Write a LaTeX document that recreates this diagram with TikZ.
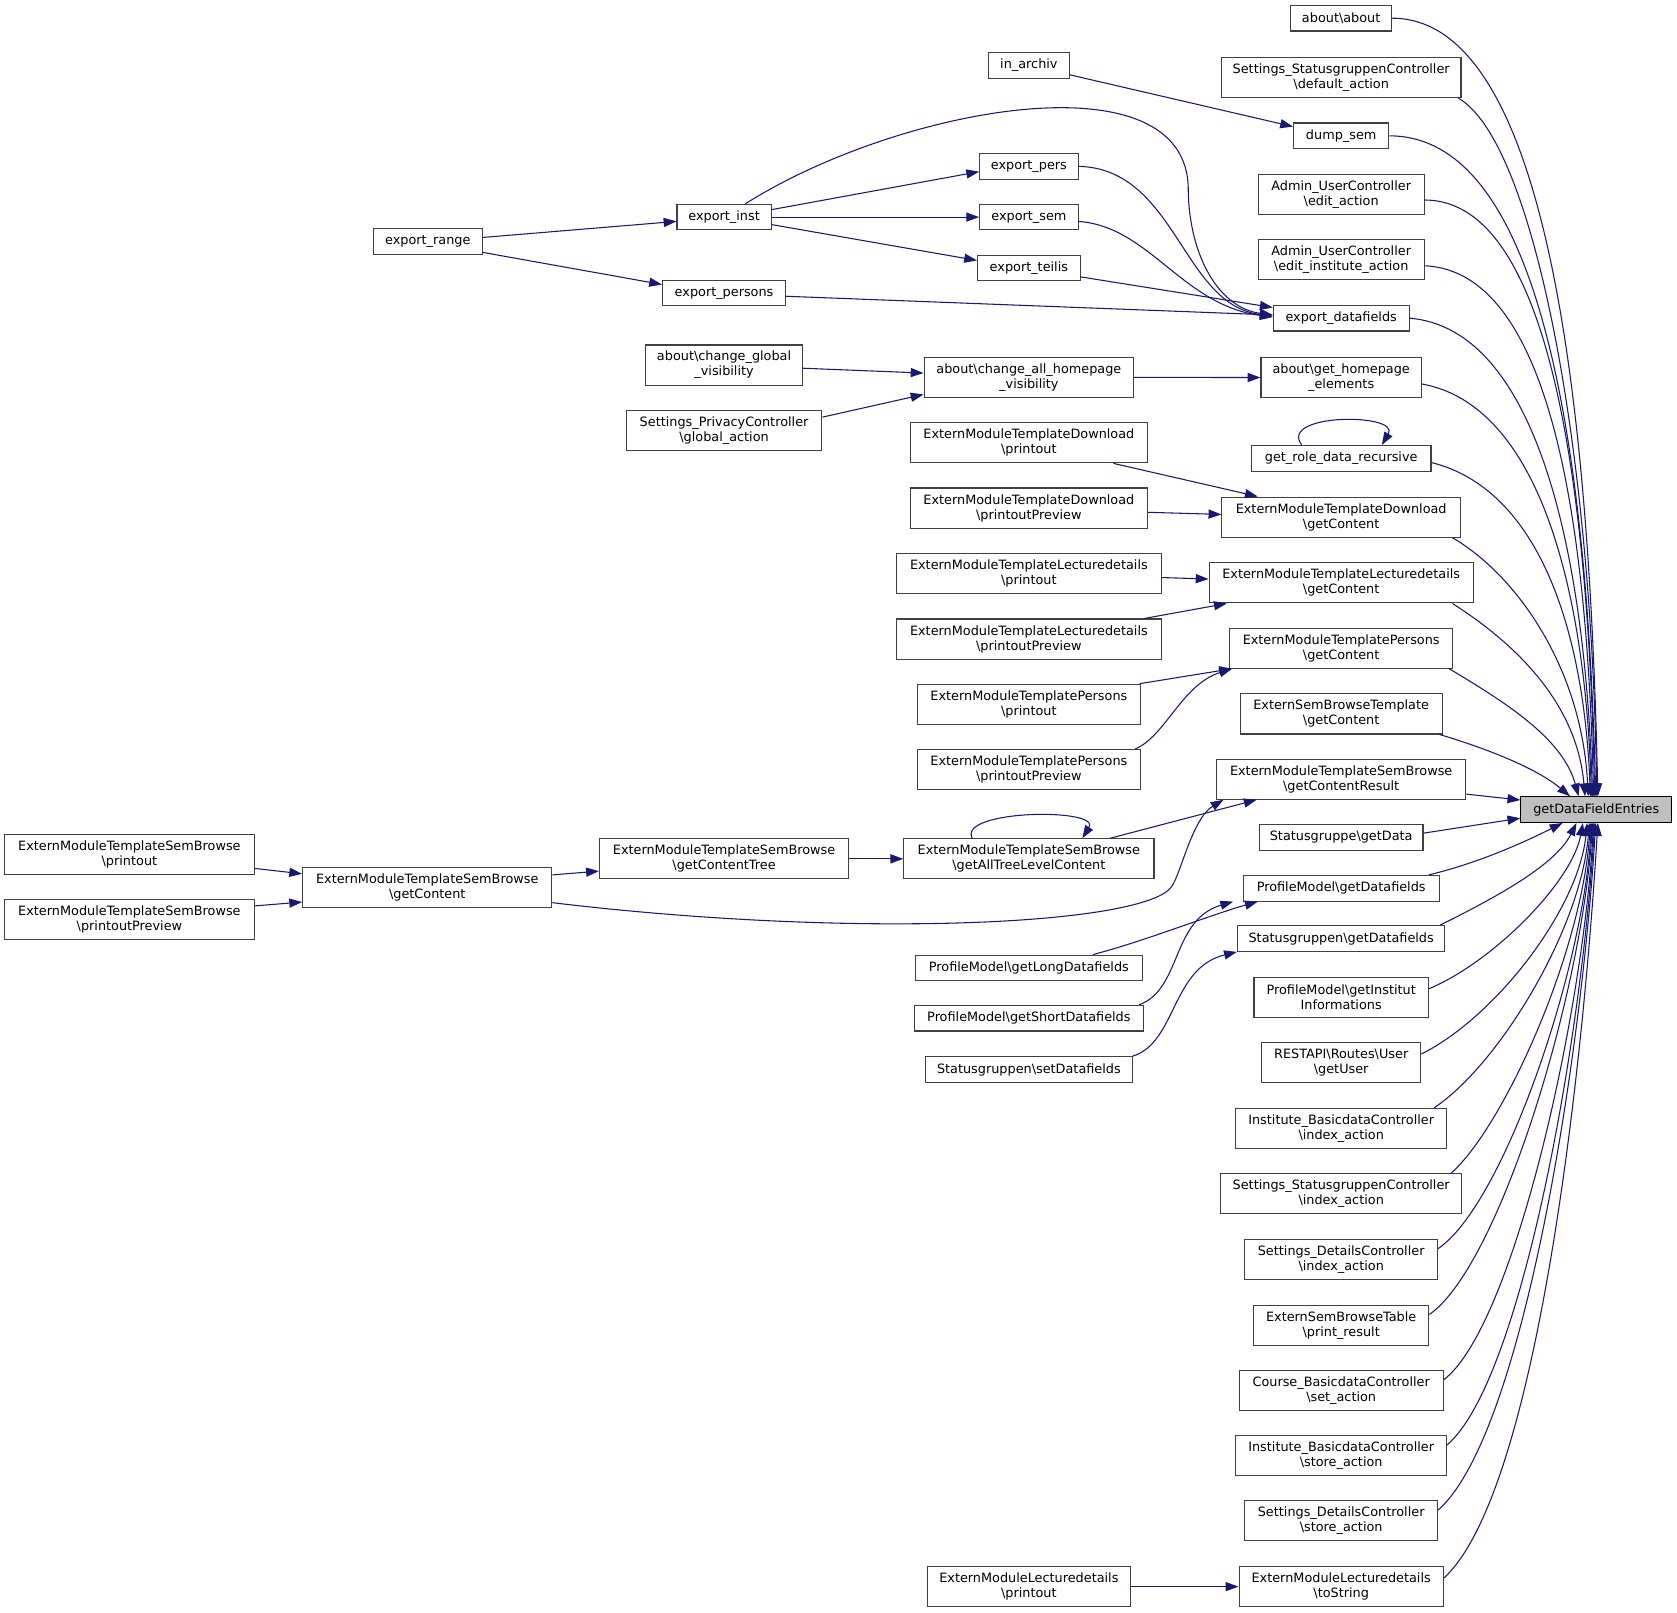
\documentclass[tikz,border=0pt]{standalone}
\usepackage{fontspec}
\setmainfont{DejaVu Sans}
\usetikzlibrary{arrows.meta}
\definecolor{edgeblue}{HTML}{191970}
\definecolor{boxline}{HTML}{404040}
\definecolor{rootfill}{HTML}{BFBFBF}
\newcommand{\bks}{\textbackslash}
\begin{document}
\begin{tikzpicture}[x=1pt,y=-1pt,
  nd/.style={draw=boxline, line width=1pt, fill=white, inner sep=0pt, align=center,
     font=\fontsize{12}{14}\selectfont, minimum height=24pt},
  ndd/.style={nd, minimum height=37.5pt},
  ed/.style={draw=edgeblue, line width=1pt, -{Triangle[length=12pt,width=8.5pt]}}]
\useasboundingbox (0,0) rectangle (1568,1508);
% root
\node[nd, fill=rootfill, draw=black, minimum width=141pt] (g) at (1492.5,757) {getDataFieldEntries};
% right column
\node[nd, minimum width=94pt] (r1) at (1254,17) {about\bks about};
\node[ndd, minimum width=224pt] (r2) at (1254,72.5) {Settings\_StatusgruppenController\\\bks default\_action};
\node[nd, minimum width=89pt] (r3) at (1254,127) {dump\_sem};
\node[ndd, minimum width=155pt] (r4) at (1254,182) {Admin\_UserController\\\bks edit\_action};
\node[ndd, minimum width=155pt] (r5) at (1254,242.5) {Admin\_UserController\\\bks edit\_institute\_action};
\node[nd, minimum width=127pt] (r6) at (1254,297.5) {export\_datafields};
\node[ndd, minimum width=150pt] (r7) at (1254,353) {about\bks get\_homepage\\\_elements};
\node[nd, minimum width=168pt] (r8) at (1254,428.5) {get\_role\_data\_recursive};
\node[ndd, minimum width=223pt] (r9) at (1254,483.5) {ExternModuleTemplateDownload\\\bks getContent};
\node[ndd, minimum width=247pt] (r10) at (1254,545) {ExternModuleTemplateLecturedetails\\\bks getContent};
\node[ndd, minimum width=209pt] (r11) at (1254,606) {ExternModuleTemplatePersons\\\bks getContent};
\node[ndd, minimum width=189pt] (r12) at (1254,667.5) {ExternSemBrowseTemplate\\\bks getContent};
\node[ndd, minimum width=233pt] (r13) at (1254,728.5) {ExternModuleTemplateSemBrowse\\\bks getContentResult};
\node[nd, minimum width=153pt] (r14) at (1254,783) {Statusgruppe\bks getData};
\node[nd, minimum width=183pt] (r15) at (1254,830.5) {ProfileModel\bks getDatafields};
\node[nd, minimum width=194pt] (r16) at (1254,877.5) {Statusgruppen\bks getDatafields};
\node[ndd, minimum width=163pt] (r17) at (1254,932.5) {ProfileModel\bks getInstitut\\Informations};
\node[ndd, minimum width=149pt] (r18) at (1254,993.5) {RESTAPI\bks Routes\bks User\\\bks getUser};
\node[ndd, minimum width=197pt] (r19) at (1254,1055) {Institute\_BasicdataController\\\bks index\_action};
\node[ndd, minimum width=225pt] (r20) at (1254,1116) {Settings\_StatusgruppenController\\\bks index\_action};
\node[ndd, minimum width=180pt] (r21) at (1254,1177.5) {Settings\_DetailsController\\\bks index\_action};
\node[ndd, minimum width=164pt] (r22) at (1254,1239) {ExternSemBrowseTable\\\bks print\_result};
\node[ndd, minimum width=191pt] (r23) at (1254,1300) {Course\_BasicdataController\\\bks set\_action};
\node[ndd, minimum width=197pt] (r24) at (1254,1361) {Institute\_BasicdataController\\\bks store\_action};
\node[ndd, minimum width=180pt] (r25) at (1254,1422) {Settings\_DetailsController\\\bks store\_action};
\node[ndd, minimum width=191pt] (r26) at (1254,1483.5) {ExternModuleLecturedetails\\\bks toString};
% middle column
\node[nd, minimum width=76pt] (m1) at (962,61) {in\_archiv};
\node[nd, minimum width=92pt] (m2) at (962,155.5) {export\_pers};
\node[nd, minimum width=92pt] (m3) at (962,203) {export\_sem};
\node[nd, minimum width=96pt] (m4) at (962,250.5) {export\_teilis};
\node[ndd, minimum width=196pt] (m5) at (962,352.8) {about\bks change\_all\_homepage\\\_visibility};
\node[ndd, minimum width=222pt] (m6) at (962,414) {ExternModuleTemplateDownload\\\bks printout};
\node[ndd, minimum width=222pt] (m7) at (962,475) {ExternModuleTemplateDownload\\\bks printoutPreview};
\node[ndd, minimum width=248pt] (m8) at (962,536.5) {ExternModuleTemplateLecturedetails\\\bks printout};
\node[ndd, minimum width=248pt] (m9) at (962,597.5) {ExternModuleTemplateLecturedetails\\\bks printoutPreview};
\node[ndd, minimum width=208pt] (m10) at (962,658.5) {ExternModuleTemplatePersons\\\bks printout};
\node[ndd, minimum width=208pt] (m11) at (962,719.5) {ExternModuleTemplatePersons\\\bks printoutPreview};
\node[ndd, minimum width=234pt] (m12) at (962,803) {ExternModuleTemplateSemBrowse\\\bks getAllTreeLevelContent};
\node[nd, minimum width=212pt] (m13) at (962,905) {ProfileModel\bks getLongDatafields};
\node[nd, minimum width=214pt] (m14) at (962,952) {ProfileModel\bks getShortDatafields};
\node[nd, minimum width=193pt] (m15) at (962,1000) {Statusgruppen\bks setDatafields};
\node[ndd, minimum width=190pt] (m16) at (962,1483.5) {ExternModuleLecturedetails\\\bks printout};
% column 3
\node[nd, minimum width=88pt] (c1) at (677,203) {export\_inst};
\node[nd, minimum width=115pt] (c2) at (677,274) {export\_persons};
\node[ndd, minimum width=147pt] (c3) at (677,341.3) {about\bks change\_global\\\_visibility};
\node[ndd, minimum width=183pt] (c4) at (677,402.5) {Settings\_PrivacyController\\\bks global\_action};
\node[ndd, minimum width=233pt] (c5) at (677,803) {ExternModuleTemplateSemBrowse\\\bks getContentTree};
% column 4
\node[nd, minimum width=102pt] (d1) at (400,226) {export\_range};
\node[ndd, minimum width=233pt] (d2) at (399.5,830) {ExternModuleTemplateSemBrowse\\\bks getContent};
% column 5
\node[ndd, minimum width=234pt] (e1) at (121,799) {ExternModuleTemplateSemBrowse\\\bks printout};
\node[ndd, minimum width=234pt] (e2) at (121,860) {ExternModuleTemplateSemBrowse\\\bks printoutPreview};

% edges into root (top)
\draw[ed] (r1.east) .. controls +(146,0) and +(-8,-365) .. ([xshift=1.5pt]g.north);
\draw[ed] ([xshift=-3pt]r2.south east) .. controls +(70,40) and +(-5,-330) .. ([xshift=0.5pt]g.north);
\draw[ed] (r3.east) .. controls +(146,0) and +(-8,-309) .. ([xshift=-0.5pt]g.north);
\draw[ed] ([yshift=-5pt]r4.east) .. controls +(120,0) and +(-6,-279) .. ([xshift=-1.5pt]g.north);
\draw[ed] ([yshift=-6pt]r5.east) .. controls +(120,5) and +(-6,-248) .. ([xshift=-2.5pt]g.north);
\draw[ed] (r6.east) .. controls +(120,10) and +(-7,-224) .. ([xshift=-3.5pt]g.north);
\draw[ed] ([yshift=-6pt]r7.east) .. controls +(110,20) and +(-6,-192) .. ([xshift=-4.5pt]g.north);
\draw[ed] ([yshift=-4pt]r8.east) .. controls +(100,25) and +(-6,-156) .. ([xshift=-5.5pt]g.north);
\draw[ed] ([xshift=-8pt]r9.south east) .. controls +(60,35) and +(-6,-120) .. ([xshift=-7.5pt]g.north);
\draw[ed] ([xshift=-20pt]r10.south east) .. controls +(55,35) and +(-8,-90) .. ([xshift=-10.5pt]g.north);
\draw[ed] ([xshift=-4pt]r11.south east) .. controls +(50,30) and +(-15,-55) .. ([xshift=-16.5pt]g.north);
\draw[ed] ([xshift=-3pt]r12.south east) .. controls +(50,15) and +(-30,-25) .. ([xshift=-24.5pt]g.north);
% side
\draw[ed] ([yshift=-14pt]r13.east) -- ([yshift=9pt]g.west);
\draw[ed] ([yshift=4pt]r14.east) -- ([yshift=-8pt]g.west);
% bottom
\draw[ed] ([xshift=-10pt]r15.north east) .. controls +(50,-12) and +(-30,15) .. ([xshift=-31.5pt]g.south);
\draw[ed] ([xshift=-5pt]r16.north east) .. controls +(50,-25) and +(-20,40) .. ([xshift=-18.5pt]g.south);
\draw[ed] ([yshift=8pt]r17.east) .. controls +(60,-25) and +(-10,55) .. ([xshift=-12.5pt]g.south);
\draw[ed] ([yshift=8pt]r18.east) .. controls +(70,-35) and +(-8,80) .. ([xshift=-8.5pt]g.south);
\draw[ed] ([xshift=-12pt]r19.north east) .. controls +(60,-40) and +(-8,100) .. ([xshift=-6.5pt]g.south);
\draw[ed] ([xshift=-10pt]r20.north east) .. controls +(50,-45) and +(-8,120) .. ([xshift=-5.5pt]g.south);
\draw[ed] ([yshift=10pt]r21.east) .. controls +(60,-40) and +(-8,140) .. ([xshift=-4.5pt]g.south);
\draw[ed] ([yshift=10pt]r22.east) .. controls +(65,-45) and +(-10,160) .. ([xshift=-3.5pt]g.south);
\draw[ed] ([yshift=10pt]r23.east) .. controls +(65,-50) and +(-10,180) .. ([xshift=-2.5pt]g.south);
\draw[ed] ([yshift=10pt]r24.east) .. controls +(70,-60) and +(-12,200) .. ([xshift=-1.5pt]g.south);
\draw[ed] ([yshift=10pt]r25.east) .. controls +(80,-70) and +(-13,215) .. ([xshift=-0.5pt]g.south);
\draw[ed] ([yshift=8pt]r26.east) .. controls +(87,-80) and +(-14,231) .. ([xshift=1.5pt]g.south);

% upper middle section
\draw[ed] ([yshift=-9pt]m1.east) -- ([yshift=8.6pt]r3.west);
\draw[ed] ([yshift=4pt]d1.east) -- ([yshift=-4pt]c1.west);
\draw[ed] ([yshift=-10pt]d1.east) -- ([yshift=8pt]c2.west);
\draw[ed] ([yshift=7pt]c1.east) -- ([yshift=-5pt]m2.west);
\draw[ed] (c1.east) -- (m3.west);
\draw[ed] ([yshift=-7pt]c1.east) -- ([yshift=7pt]m4.west);
\draw[ed] ([yshift=-3pt]c2.east) -- ([yshift=3pt]r6.west);
\draw[ed] ([yshift=-8.4pt]m4.east) -- ([yshift=10pt]r6.west);
\draw[ed] (m2.east) .. controls (1100,158) and (1105,285) .. ([yshift=2pt]r6.west);
\draw[ed] ([yshift=-4pt]m3.east) .. controls (1075,212) and (1105,285) .. ([yshift=1pt]r6.west);
\draw[ed] ([xshift=20pt]c1.north) .. controls (840,100) and (1112,50) .. (1111,178)
   .. controls (1112,240) and (1140,288) .. ([yshift=3pt]r6.west);
\draw[ed] ([yshift=-3pt]c3.east) -- ([yshift=4pt]m5.west);
\draw[ed] ([yshift=12.5pt]c4.east) -- ([yshift=-16pt]m5.west);
\draw[ed] (m5.east) -- (r7.west);
\draw[ed] ([xshift=-37pt]r8.north) .. controls (1195,386) and (1310,386) .. ([xshift=38pt]r8.north);

% extern module templates
\draw[ed] ([xshift=79pt]m6.south) -- ([xshift=-78pt]r9.north);
\draw[ed] ([yshift=-4pt]m7.east) -- ([yshift=2.5pt]r9.west);
\draw[ed] ([yshift=-3.5pt]m8.east) -- ([yshift=3.6pt]r10.west);
\draw[ed] ([xshift=108pt]m9.north) -- ([xshift=-107pt]r10.south);
\draw[ed] ([xshift=-1pt]m10.north east) -- ([xshift=3pt]r11.south west);
\draw[ed] ([xshift=-5pt]m11.north east) .. controls (1090,688) and (1105,640) .. ([xshift=3pt]r11.south west);

% sem browse
\draw[ed] ([xshift=76pt]m12.north) -- ([xshift=-79pt]r13.south);
\draw[ed] ([xshift=-53pt]m12.north) .. controls (895,757) and (1030,755) .. ([xshift=50pt]m12.north);
\draw[ed] (c5.east) -- (m12.west);
\draw[ed] ([yshift=12pt]d2.east) -- ([yshift=-11.5pt]c5.west);
\draw[ed] ([yshift=-13pt]e1.east) -- ([yshift=13pt]d2.west);
\draw[ed] ([yshift=13pt]e2.east) -- ([yshift=-13.4pt]d2.west);
\draw[ed] ([yshift=-14pt]d2.east) .. controls (800,878) and (1070,865) .. (1095.5,829)
   .. controls (1104,817) and (1115,765) .. ([xshift=-110pt]r13.south);

% profile / statusgruppen
\draw[ed] ([xshift=60pt]m13.north) .. controls (1070,880) and (1130,856) .. ([xshift=-78pt]r15.south);
\draw[ed] ([xshift=103pt]m14.north) .. controls (1105,925) and (1095,860) .. ([xshift=-101pt]r15.south);
\draw[ed] (m15.north east) .. controls (1100,975) and (1095,905) .. (r16.south west);

% lecturedetails
\draw[ed] (m16.east) -- (r26.west);
\end{tikzpicture}
\end{document}
